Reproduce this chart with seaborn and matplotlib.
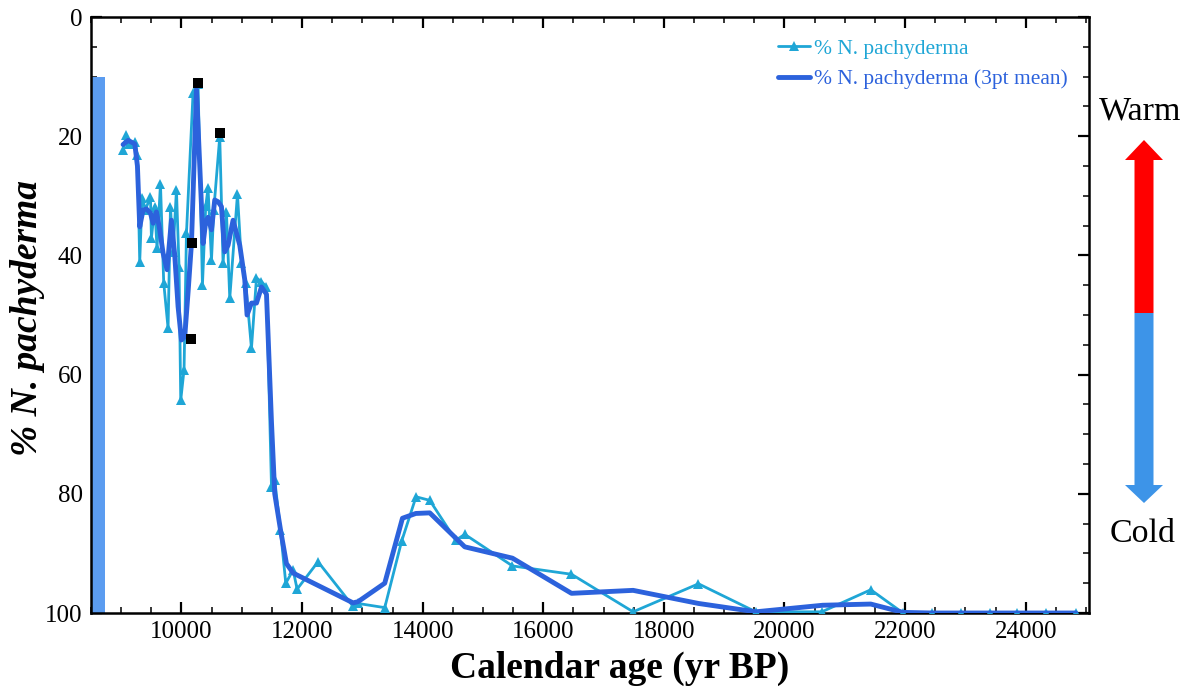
import matplotlib
matplotlib.use("Agg")
import matplotlib.pyplot as plt
import seaborn as sns
from matplotlib.patches import Polygon
from matplotlib.ticker import MultipleLocator

# ---------------- data ----------------
light_age = [9032, 9088, 9131, 9226, 9270, 9308, 9347, 9403, 9486, 9502,
             9557, 9595, 9652, 9706, 9778, 9818, 9861, 9917, 9960, 9988,
             10043, 10083, 10192, 10275, 10348, 10403, 10441, 10498, 10536, 10635,
             10690, 10746, 10801, 10929, 10995, 11066, 11161, 11244, 11327, 11410,
             11493, 11547, 11642, 11730, 11852, 11918, 12265, 12840, 12930, 13371,
             13650, 13890, 14118, 14549, 14698, 15489, 16468, 17490, 18574, 19524,
             20620, 21431, 21967, 22454, 22935, 23405, 23864, 24345, 24831]
light_pct = [22.3, 19.8, 21.3, 20.9, 23.2, 41.1, 30.3, 32.3, 30.2, 37.1,
             31.8, 38.8, 28.0, 44.6, 52.2, 31.9, 39.4, 29.0, 41.9, 64.3,
             59.2, 36.3, 12.8, 11.2, 45.0, 31.7, 28.7, 40.8, 32.4, 20.1,
             41.3, 32.7, 47.2, 29.7, 41.2, 44.7, 55.6, 43.8, 44.4, 45.3,
             78.8, 77.7, 86.1, 95.0, 92.8, 96.0, 91.4, 98.8, 98.4, 99.1,
             88.0, 80.5, 81.1, 87.8, 86.8, 92.1, 93.5, 99.8, 95.1, 99.8,
             99.8, 96.1, 100.0, 100.0, 100.0, 100.0, 100.0, 100.0, 100.0]

dark_age = [9032, 9116, 9226, 9270, 9308, 9363, 9419, 9486, 9530, 9585,
            9640, 9695, 9761, 9834, 9889, 9944, 10000, 10055, 10111, 10166,
            10249, 10359, 10403, 10441, 10498, 10552, 10608, 10663, 10718, 10773,
            10856, 10967, 11050, 11088, 11161, 11244, 11327, 11410, 11493, 11547,
            11642, 11741, 11852, 12846, 12929, 13371, 13665, 13886, 14118, 14698,
            15489, 16468, 17490, 18574, 19524, 20634, 21431, 21967, 22454, 22935,
            23405, 23864, 24345, 24831]
dark_pct = [21.4, 20.7, 21.3, 25.0, 35.2, 32.4, 32.2, 32.9, 34.6, 32.7,
            35.7, 39.6, 42.4, 34.1, 40.0, 48.6, 54.2, 53.6, 46.0, 38.0,
            12.2, 38.0, 34.3, 33.6, 35.7, 30.7, 31.0, 31.8, 39.4, 38.3,
            34.1, 38.3, 44.1, 50.0, 48.0, 48.0, 45.3, 46.5, 68.0, 80.0,
            86.0, 91.7, 93.3, 98.3, 98.1, 95.0, 84.1, 83.3, 83.2, 88.9,
            90.8, 96.7, 96.2, 98.4, 99.8, 98.7, 98.5, 99.9, 100.0, 100.0,
            100.0, 100.0, 100.0, 100.0]

square_age = [10275, 10647, 10182, 10166]
square_pct = [11.0, 19.5, 38.0, 54.1]

bar_age = 8500
bar_width = 230
bar_top = 10
bar_bottom = 100

x_ticks = [10000, 12000, 14000, 16000, 18000, 20000, 22000, 24000]
y_ticks = [0, 20, 40, 60, 80, 100]

LIGHT = "#1fa6d6"
DARK = "#2c62dc"
BAR = "#5b9cf0"

# ---------------- figure ----------------
sns.set_theme(style="ticks")
plt.rcParams["font.family"] = ["Liberation Serif", "DejaVu Serif"]

W, H = 1191, 697
fig = plt.figure(figsize=(W / 100, H / 100), dpi=100)
ax = fig.add_axes([91 / W, 84 / H, 998 / W, 596 / H])

ax.bar(bar_age, bar_bottom - bar_top, bottom=bar_top, width=bar_width,
       align="edge", color=BAR, linewidth=0, zorder=1)

sns.lineplot(x=light_age, y=light_pct, ax=ax, color=LIGHT, marker="^",
             markersize=7, markeredgewidth=0, linewidth=2.0,
             label="% N. pachyderma", estimator=None, sort=False, zorder=3)
sns.lineplot(x=dark_age, y=dark_pct, ax=ax, color=DARK, linewidth=3.5,
             label="% N. pachyderma (3pt mean)", estimator=None, sort=False,
             zorder=4)
sns.scatterplot(x=square_age, y=square_pct, ax=ax, marker="s", color="black",
                s=60, linewidth=0, zorder=5, legend=False)

ax.set_xlim(8500, 25050)
ax.set_ylim(100, 0)
ax.set_xticks(x_ticks)
ax.set_yticks(y_ticks)
ax.xaxis.set_minor_locator(MultipleLocator(500))
ax.yaxis.set_minor_locator(MultipleLocator(5))
ax.tick_params(which="major", direction="in", length=8, width=1.6,
               top=True, right=True, labelsize=18, colors="black",
               labelcolor="black", pad=6)
ax.tick_params(which="minor", direction="in", length=4.5, width=1.3,
               top=True, right=True)
for s in ax.spines.values():
    s.set_linewidth(1.8)
    s.set_color("black")

ax.set_xlabel("Calendar age (yr BP)", fontsize=27, fontweight="bold",
              color="black")
ax.xaxis.set_label_coords(0.53, -0.064)
ax.set_ylabel("% N. pachyderma", fontsize=27, fontweight="bold",
              fontstyle="italic", color="black")
ax.yaxis.set_label_coords(-0.046, 0.495)

leg = ax.legend(loc="upper right", frameon=False, fontsize=15.5,
                handlelength=1.5, handletextpad=0.15, labelspacing=0.5,
                borderaxespad=0.6, borderpad=0.4)
for txt, col in zip(leg.get_texts(), [LIGHT, DARK]):
    txt.set_color(col)

# ---------------- warm/cold arrow (figure pixel space) ----------------
ov = fig.add_axes([0, 0, 1, 1], zorder=-1)
ov.set_xlim(0, W)
ov.set_ylim(H, 0)
ov.axis("off")
cx = 1144
sw, hw = 9.5, 19
ov.add_patch(Polygon([(cx - sw, 313), (cx - sw, 160), (cx - hw, 160), (cx, 140),
                      (cx + hw, 160), (cx + sw, 160), (cx + sw, 313)],
                     closed=True, color="#ff0000", lw=0))
ov.add_patch(Polygon([(cx - sw, 313), (cx - sw, 485), (cx - hw, 485), (cx, 503),
                      (cx + hw, 485), (cx + sw, 485), (cx + sw, 313)],
                     closed=True, color="#3d94e8", lw=0))
ov.text(1140, 111, "Warm", ha="center", va="center", fontsize=24.5, color="black")
ov.text(1143, 534, "Cold", ha="center", va="center", fontsize=24.5, color="black")

fig.savefig("out.png", dpi=100)
